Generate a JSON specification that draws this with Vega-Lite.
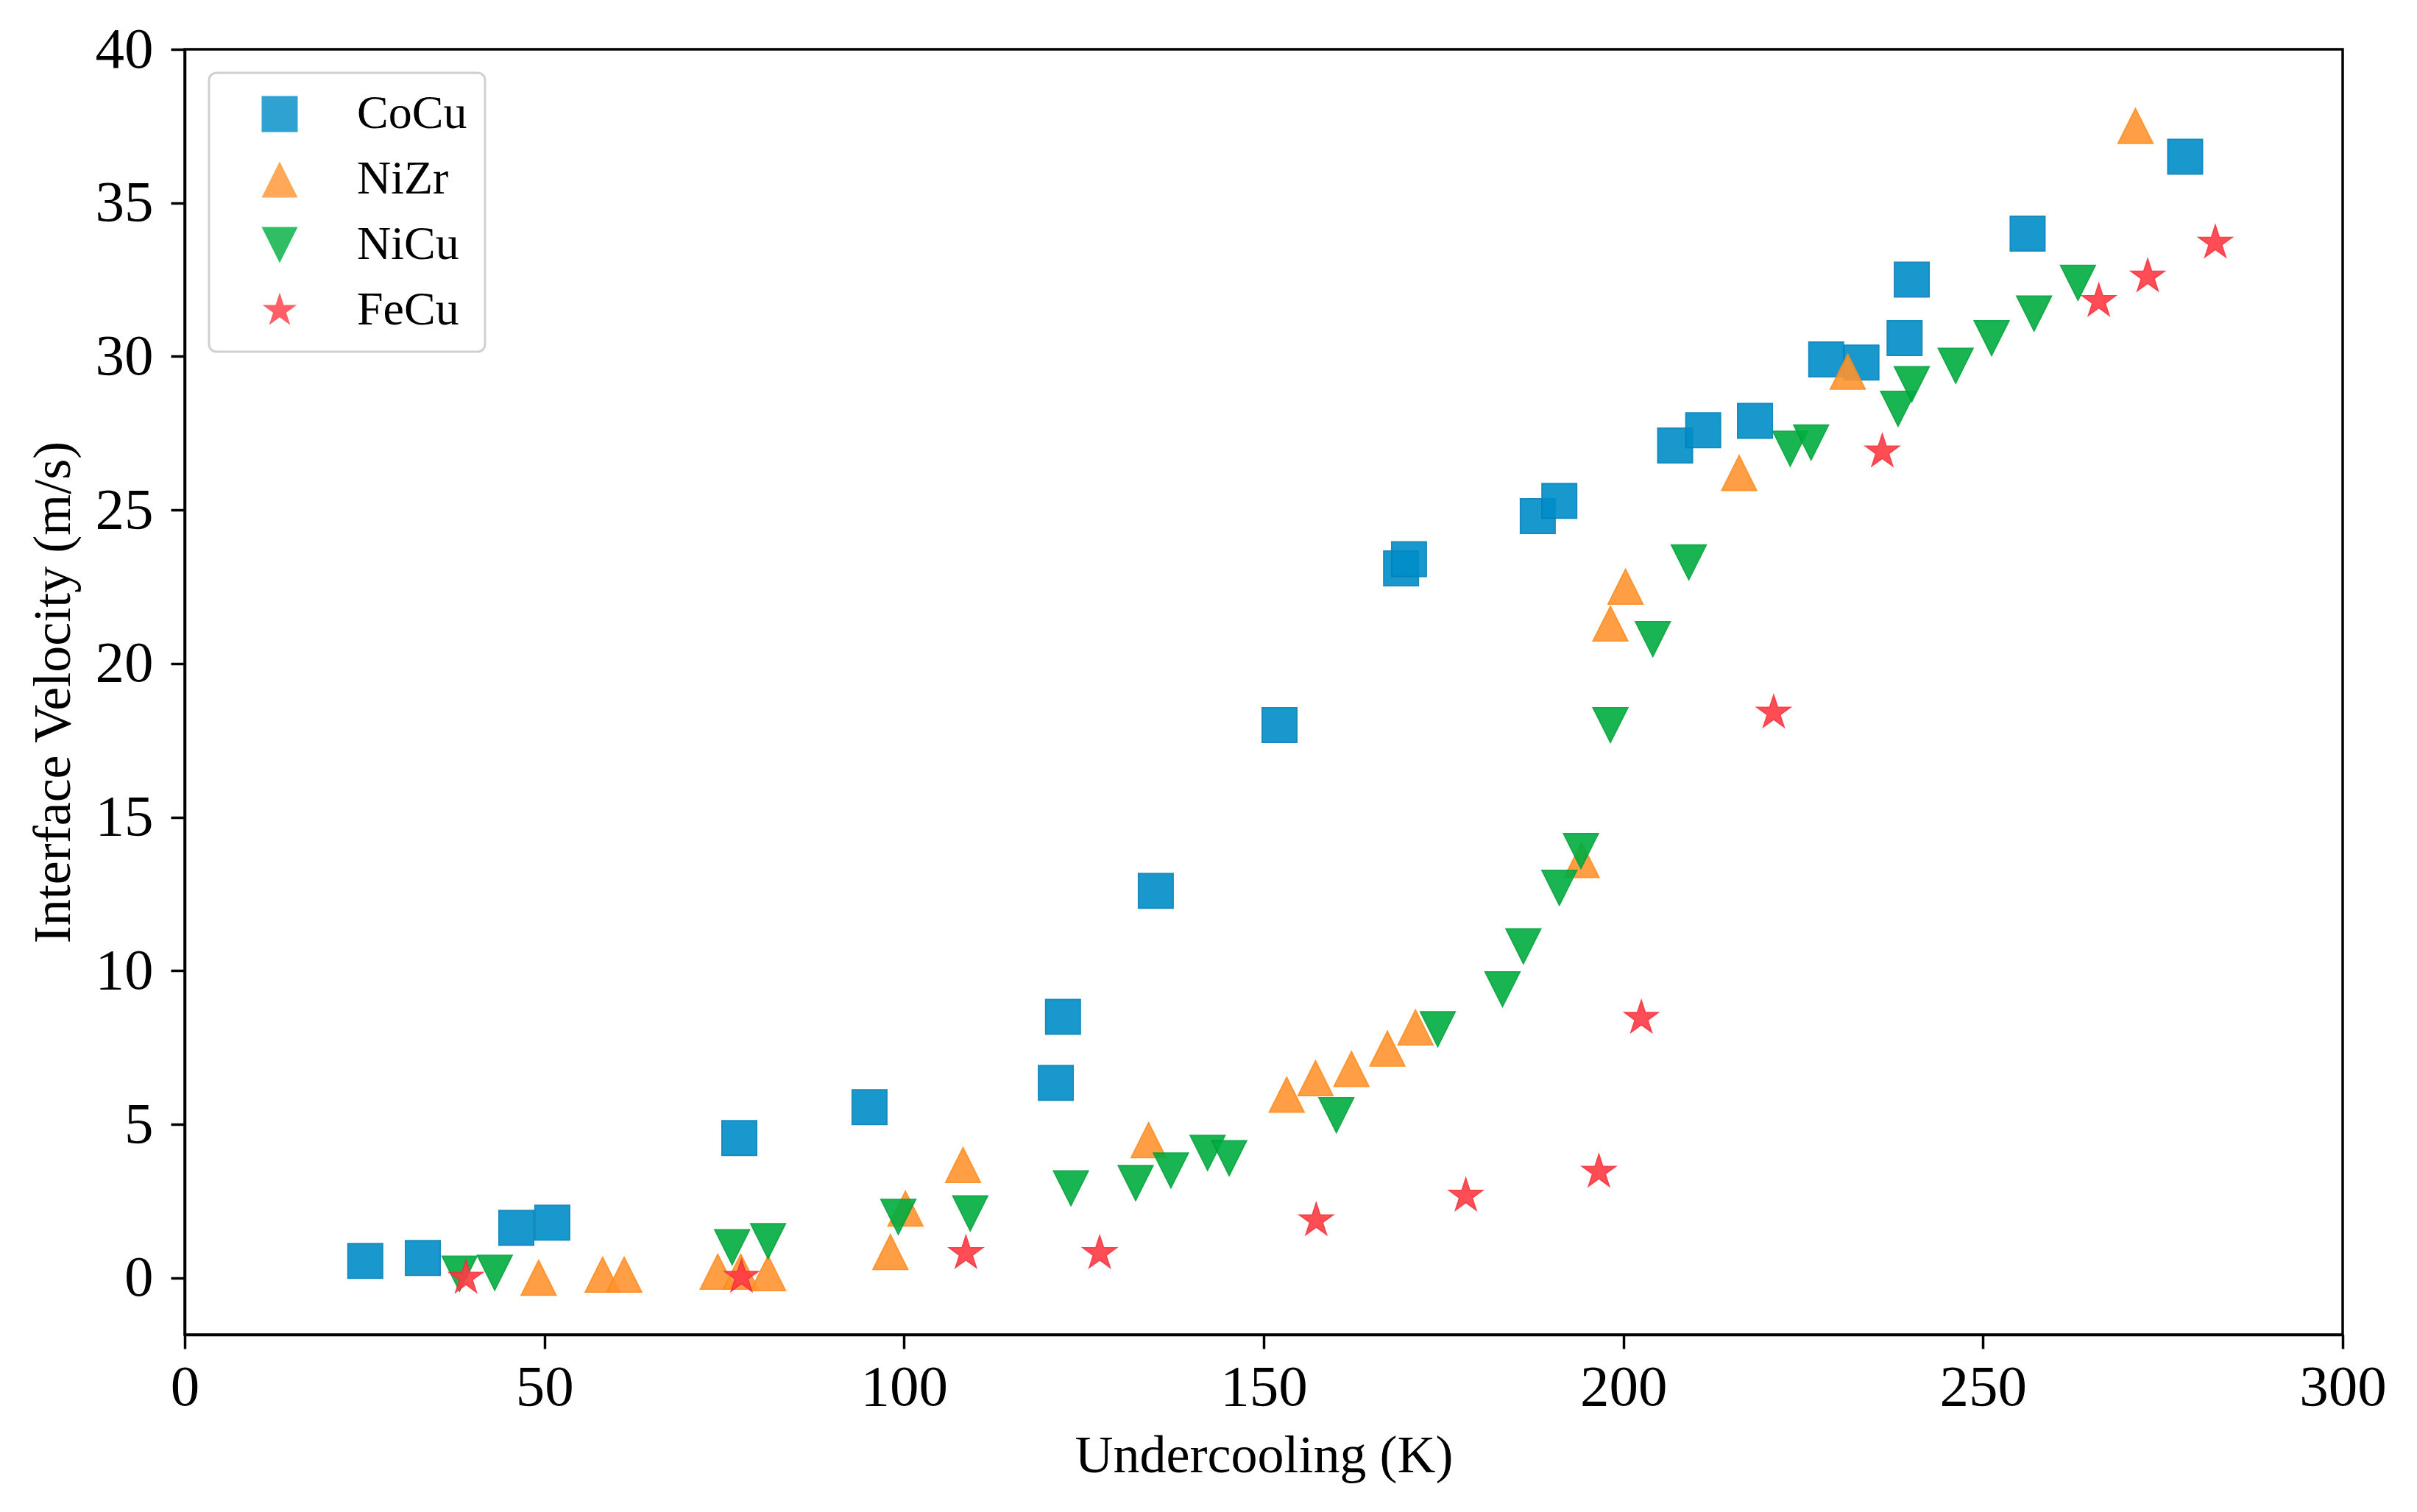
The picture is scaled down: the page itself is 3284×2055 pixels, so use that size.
{
  "$schema": "https://vega.github.io/schema/vega-lite/v6.json",
  "width": 2932,
  "height": 1747,
  "autosize": {"type": "none"},
  "padding": {"left": 251, "top": 67, "right": 101, "bottom": 241},
  "background": "white",
  "config": {
    "view": {"stroke": "black", "strokeWidth": 3.5},
    "font": "Liberation Serif",
    "legend": {"strokeWidth": 3}
  },
  "data": {
    "values": [
      {"alloy": "CoCu", "x": 25.1, "y": 0.55},
      {"alloy": "CoCu", "x": 33.1, "y": 0.65},
      {"alloy": "CoCu", "x": 46.1, "y": 1.63},
      {"alloy": "CoCu", "x": 51.1, "y": 1.8},
      {"alloy": "CoCu", "x": 77.1, "y": 4.55},
      {"alloy": "CoCu", "x": 95.2, "y": 5.56},
      {"alloy": "CoCu", "x": 121.1, "y": 6.35},
      {"alloy": "CoCu", "x": 122.1, "y": 8.5},
      {"alloy": "CoCu", "x": 135.0, "y": 12.6},
      {"alloy": "CoCu", "x": 152.2, "y": 18.0},
      {"alloy": "CoCu", "x": 169.1, "y": 23.1},
      {"alloy": "CoCu", "x": 170.2, "y": 23.4},
      {"alloy": "CoCu", "x": 188.1, "y": 24.8},
      {"alloy": "CoCu", "x": 191.1, "y": 25.3},
      {"alloy": "CoCu", "x": 207.2, "y": 27.1},
      {"alloy": "CoCu", "x": 211.1, "y": 27.6},
      {"alloy": "CoCu", "x": 218.3, "y": 27.9},
      {"alloy": "CoCu", "x": 228.2, "y": 29.9},
      {"alloy": "CoCu", "x": 233.1, "y": 29.8},
      {"alloy": "CoCu", "x": 239.1, "y": 30.6},
      {"alloy": "CoCu", "x": 240.1, "y": 32.5},
      {"alloy": "CoCu", "x": 256.2, "y": 34.0},
      {"alloy": "CoCu", "x": 278.1, "y": 36.5},
      {"alloy": "NiZr", "x": 49.2, "y": 0.0},
      {"alloy": "NiZr", "x": 58.1, "y": 0.1},
      {"alloy": "NiZr", "x": 61.1, "y": 0.1},
      {"alloy": "NiZr", "x": 74.1, "y": 0.2},
      {"alloy": "NiZr", "x": 77.3, "y": 0.2},
      {"alloy": "NiZr", "x": 81.1, "y": 0.15},
      {"alloy": "NiZr", "x": 98.1, "y": 0.84},
      {"alloy": "NiZr", "x": 100.2, "y": 2.25},
      {"alloy": "NiZr", "x": 108.2, "y": 3.67},
      {"alloy": "NiZr", "x": 134.0, "y": 4.48},
      {"alloy": "NiZr", "x": 153.2, "y": 5.96},
      {"alloy": "NiZr", "x": 157.2, "y": 6.5},
      {"alloy": "NiZr", "x": 162.2, "y": 6.8},
      {"alloy": "NiZr", "x": 167.2, "y": 7.46},
      {"alloy": "NiZr", "x": 171.1, "y": 8.15},
      {"alloy": "NiZr", "x": 194.2, "y": 13.6},
      {"alloy": "NiZr", "x": 198.2, "y": 21.3},
      {"alloy": "NiZr", "x": 200.3, "y": 22.5},
      {"alloy": "NiZr", "x": 216.1, "y": 26.2},
      {"alloy": "NiZr", "x": 231.2, "y": 29.5},
      {"alloy": "NiZr", "x": 271.2, "y": 37.5},
      {"alloy": "NiCu", "x": 38.2, "y": 0.14},
      {"alloy": "NiCu", "x": 43.1, "y": 0.17},
      {"alloy": "NiCu", "x": 76.1, "y": 1.0},
      {"alloy": "NiCu", "x": 81.1, "y": 1.2},
      {"alloy": "NiCu", "x": 99.2, "y": 1.99},
      {"alloy": "NiCu", "x": 109.2, "y": 2.1},
      {"alloy": "NiCu", "x": 123.2, "y": 2.92},
      {"alloy": "NiCu", "x": 132.2, "y": 3.09},
      {"alloy": "NiCu", "x": 137.1, "y": 3.5},
      {"alloy": "NiCu", "x": 142.2, "y": 4.07},
      {"alloy": "NiCu", "x": 145.2, "y": 3.9},
      {"alloy": "NiCu", "x": 160.1, "y": 5.3},
      {"alloy": "NiCu", "x": 174.2, "y": 8.1},
      {"alloy": "NiCu", "x": 183.2, "y": 9.4},
      {"alloy": "NiCu", "x": 186.1, "y": 10.8},
      {"alloy": "NiCu", "x": 191.1, "y": 12.7},
      {"alloy": "NiCu", "x": 194.1, "y": 13.9},
      {"alloy": "NiCu", "x": 198.2, "y": 18.0},
      {"alloy": "NiCu", "x": 204.1, "y": 20.8},
      {"alloy": "NiCu", "x": 209.1, "y": 23.3},
      {"alloy": "NiCu", "x": 223.2, "y": 27.0},
      {"alloy": "NiCu", "x": 226.1, "y": 27.2},
      {"alloy": "NiCu", "x": 238.2, "y": 28.3},
      {"alloy": "NiCu", "x": 240.1, "y": 29.1},
      {"alloy": "NiCu", "x": 246.2, "y": 29.7},
      {"alloy": "NiCu", "x": 251.2, "y": 30.6},
      {"alloy": "NiCu", "x": 257.1, "y": 31.4},
      {"alloy": "NiCu", "x": 263.2, "y": 32.4},
      {"alloy": "FeCu", "x": 39.1, "y": 0.0},
      {"alloy": "FeCu", "x": 77.4, "y": 0.03},
      {"alloy": "FeCu", "x": 108.6, "y": 0.8},
      {"alloy": "FeCu", "x": 127.2, "y": 0.8},
      {"alloy": "FeCu", "x": 157.3, "y": 1.87},
      {"alloy": "FeCu", "x": 178.1, "y": 2.67},
      {"alloy": "FeCu", "x": 196.6, "y": 3.45},
      {"alloy": "FeCu", "x": 202.5, "y": 8.46},
      {"alloy": "FeCu", "x": 220.9, "y": 18.4},
      {"alloy": "FeCu", "x": 236.0, "y": 26.9},
      {"alloy": "FeCu", "x": 266.1, "y": 31.8},
      {"alloy": "FeCu", "x": 272.9, "y": 32.6},
      {"alloy": "FeCu", "x": 282.3, "y": 33.7}
    ]
  },
  "mark": {"type": "point", "filled": true, "size": 2209, "opacity": 0.9, "strokeWidth": 2},
  "encoding": {
    "x": {
      "field": "x", "type": "quantitative",
      "scale": {"domain": [0, 300], "nice": false, "zero": false},
      "axis": {
        "title": "Undercooling (K)", "values": [0, 50, 100, 150, 200, 250, 300],
        "grid": false, "domainColor": "black", "domainWidth": 3.5,
        "tickColor": "black", "tickWidth": 3.5, "tickSize": 19,
        "labelFontSize": 79, "labelColor": "black", "labelPadding": 14,
        "labelFont": "Liberation Serif", "labelFlush": false,
        "titleFont": "Liberation Serif", "titleFontSize": 72, "titleFontWeight": "normal",
        "titleColor": "black", "titlePadding": 18
      }
    },
    "y": {
      "field": "y", "type": "quantitative",
      "scale": {"domain": [-1.85, 40], "nice": false, "zero": false},
      "axis": {
        "title": "Interface Velocity (m/s)", "values": [0, 5, 10, 15, 20, 25, 30, 35, 40],
        "grid": false, "domainColor": "black", "domainWidth": 3.5,
        "tickColor": "black", "tickWidth": 3.5, "tickSize": 19,
        "labelFontSize": 79, "labelColor": "black", "labelPadding": 24,
        "labelFont": "Liberation Serif", "labelFlush": false,
        "titleFont": "Liberation Serif", "titleFontSize": 72, "titleFontWeight": "normal",
        "titleColor": "black", "titlePadding": 20
      }
    },
    "color": {
      "field": "alloy", "type": "nominal",
      "scale": {"domain": ["CoCu", "NiZr", "NiCu", "FeCu"], "range": ["#008dc8", "#ff9430", "#00ae40", "#ff3a44"]},
      "legend": {
        "title": null, "orient": "none", "legendX": 33, "legendY": 32,
        "padding": 24, "symbolOffset": 40, "labelOffset": 73, "rowPadding": 25,
        "labelFontSize": 64, "labelFont": "Liberation Serif", "labelColor": "black",
        "symbolSize": 2400, "symbolOpacity": 0.9, "symbolStrokeWidth": 0,
        "strokeColor": "#d0d0d0", "cornerRadius": 10, "fillColor": "white"
      }
    },
    "shape": {
      "field": "alloy", "type": "nominal",
      "scale": {
        "domain": ["CoCu", "NiZr", "NiCu", "FeCu"],
        "range": [
          "M-1,-1L1,-1L1,1L-1,1Z",
          "M0,-1L1,1L-1,1Z",
          "M0,1L1,-1L-1,-1Z",
          "M0,-1L0.2245,-0.309L0.951,-0.309L0.3633,0.118L0.588,0.809L0,0.382L-0.588,0.809L-0.3633,0.118L-0.951,-0.309L-0.2245,-0.309Z"
        ]
      }
    },
    "stroke": {
      "field": "alloy", "type": "nominal",
      "scale": {"domain": ["CoCu", "NiZr", "NiCu", "FeCu"], "range": ["#007fb8", "#ff8a1a", "#00a038", "#f5303a"]},
      "legend": null
    }
  }
}
